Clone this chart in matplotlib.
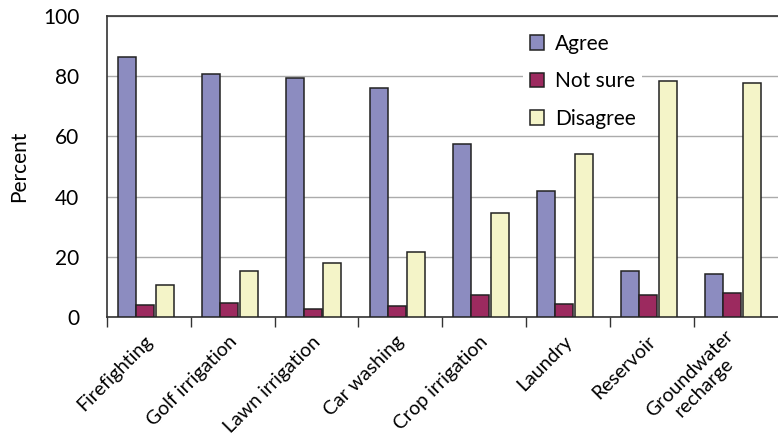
import matplotlib.pyplot as plt
import matplotlib
import numpy as np

matplotlib.rcParams['font.family'] = ['Lato', 'DejaVu Sans']
matplotlib.rcParams['font.size'] = 15

# Values
categories = ['Firefighting', 'Golf irrigation', 'Lawn irrigation', 'Car washing',
              'Crop irrigation', 'Laundry', 'Reservoir', 'Groundwater\nrecharge']
agree = [86.3, 80.8, 79.3, 76.0, 57.6, 41.8, 15.3, 14.2]
not_sure = [4.1, 4.5, 2.8, 3.6, 7.2, 4.3, 7.2, 8.0]
disagree = [10.5, 15.4, 17.8, 21.5, 34.7, 54.3, 78.5, 77.8]

x = np.arange(len(categories))
width = 0.215

fig = plt.figure(figsize=(7.78, 4.4), dpi=100)
ax = fig.add_axes([0.1375, 0.2795, 0.862, 0.684])

edge = dict(edgecolor='#222222', linewidth=1.1, zorder=3)
ax.bar(x - 0.26, agree, width, color='#8c8cc0', label='Agree', **edge)
ax.bar(x - 0.045, not_sure, width, color='#9c2a5f', label='Not sure', **edge)
ax.bar(x + 0.19, disagree, width, color='#f4f4c8', label='Disagree', **edge)

ax.set_xlim(-0.5, len(categories) - 0.5)
ax.set_ylim(0, 100)
ax.set_yticks([0, 20, 40, 60, 80, 100])
ax.yaxis.grid(True, color='#ababab', linewidth=1.0, zorder=0)
ax.set_axisbelow(True)
ax.tick_params(axis='y', length=0, pad=20)

ax.set_xticks(x)
ax.set_xticklabels(categories, rotation=45, ha='right', va='center_baseline',
                   rotation_mode='anchor', multialignment='center', fontsize=14)
ax.tick_params(axis='x', which='major', length=0, pad=15)
ax.set_xticks(np.arange(len(categories)) - 0.5, minor=True)
ax.tick_params(axis='x', which='minor', length=7, width=1.0, color='#333333')

for s in ['left', 'bottom', 'top']:
    ax.spines[s].set_color('#333333')
    ax.spines[s].set_linewidth(1.2)
ax.spines['right'].set_visible(False)

ax.set_ylabel('Percent', labelpad=10)

leg = ax.legend(loc='upper left', bbox_to_anchor=(513 / 778, 1 - 17 / 440),
                bbox_transform=fig.transFigure, frameon=True, fancybox=False,
                edgecolor='none', facecolor='white', framealpha=1.0,
                handlelength=0.7, handleheight=0.7, handletextpad=0.5,
                labelspacing=0.85, borderpad=0.3)
leg.set_zorder(5)

plt.savefig('out.png', dpi=100, facecolor='white')
